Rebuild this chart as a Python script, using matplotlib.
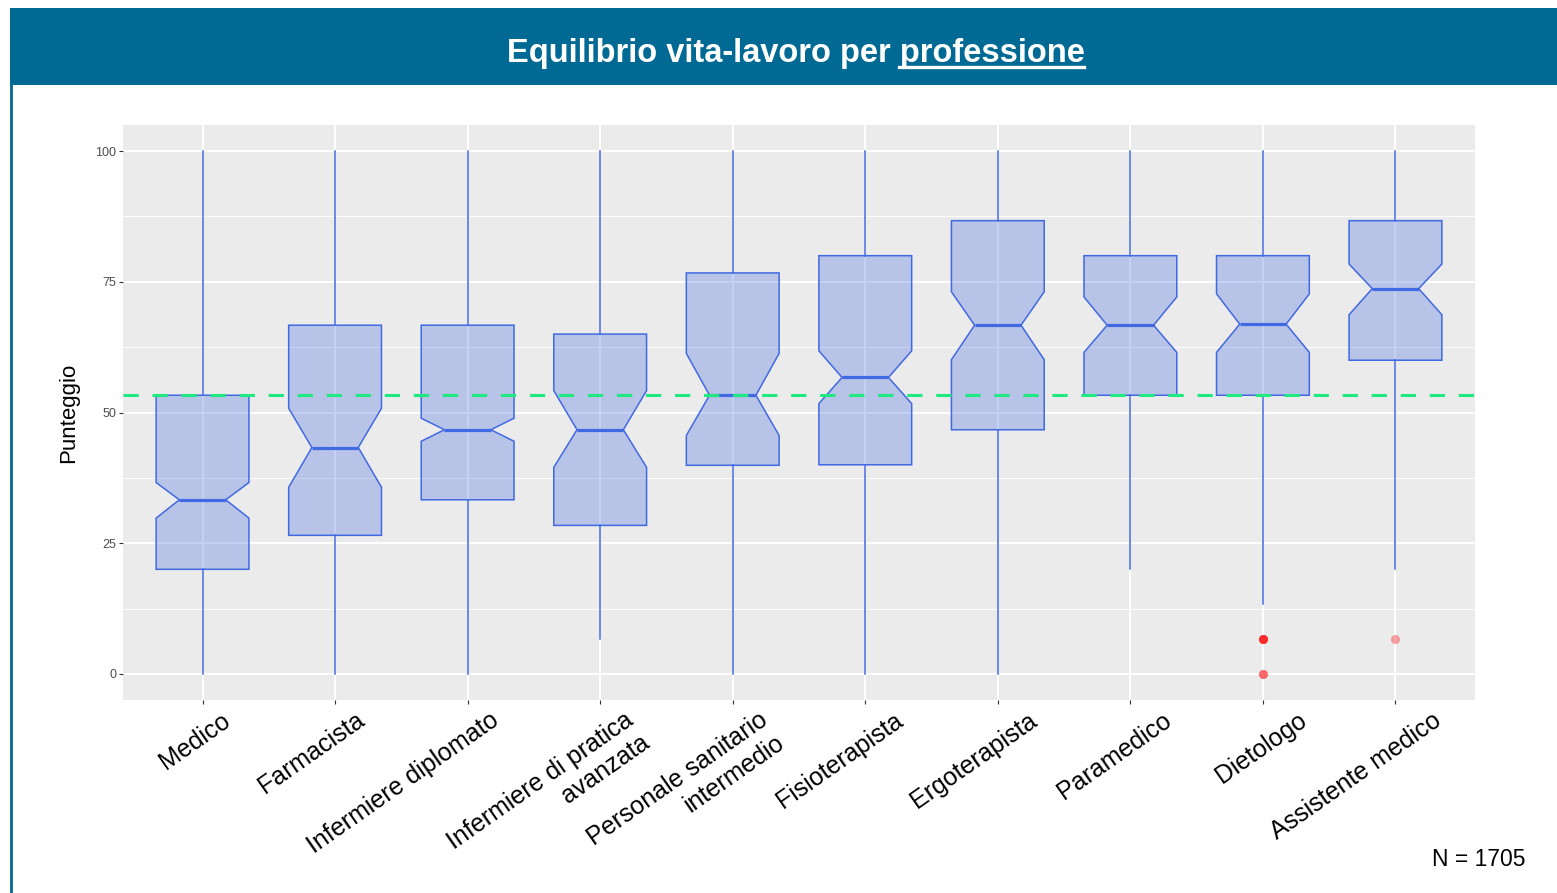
import matplotlib
matplotlib.use("Agg")
import matplotlib.pyplot as plt
import matplotlib.transforms as mtransforms
from matplotlib.patches import Rectangle
from matplotlib.lines import Line2D

plt.rcParams['font.family'] = ['Liberation Sans', 'DejaVu Sans']

# data (scores 0-100)
professioni = ["Medico", "Farmacista", "Infermiere diplomato",
               "Infermiere di pratica\navanzata", "Personale sanitario\nintermedio",
               "Fisioterapista", "Ergoterapista", "Paramedico", "Dietologo",
               "Assistente medico"]
q1 = [20.0, 26.5, 33.3, 28.4, 39.9, 40.0, 46.7, 53.3, 53.3, 60.0]
mediana = [33.3, 43.3, 46.7, 46.7, 53.3, 56.7, 66.7, 66.7, 66.9, 73.7]
q3 = [53.3, 66.7, 66.7, 65.0, 76.7, 80.0, 86.7, 80.0, 80.0, 86.7]
notch_lo = [29.8, 35.7, 44.5, 39.5, 45.6, 51.7, 60.1, 61.5, 61.5, 68.7]
notch_hi = [36.6, 50.8, 48.9, 54.2, 61.3, 61.8, 73.1, 72.1, 72.7, 78.4]
baffo_min = [0.0, 0.0, 0.0, 6.7, 0.0, 0.0, 0.0, 20.0, 13.3, 20.0]
baffo_max = [100.0] * 10
outlier = [[], [], [], [], [], [], [], [], [6.7, 6.7, 6.7, 6.7, 0.0, 0.0], [6.7]]
media_globale = 53.3
n_totale = 1705

W, H = 1557, 893
fig = plt.figure(figsize=(W / 100, H / 100), dpi=100)
fig.patch.set_facecolor("white")

# header band + left border
fig.add_artist(Rectangle((10 / W, 1 - 85 / H), 1 - 10 / W, 77 / H,
                         transform=fig.transFigure, facecolor="#006994", edgecolor="none"))
fig.add_artist(Line2D([11 / W, 11 / W], [0, 1 - 85 / H], transform=fig.transFigure,
                      color="#006994", linewidth=2))

ax = fig.add_axes([123 / W, 1 - 700 / H, 1352 / W, 575 / H])
ax.set_facecolor("#EBEBEB")
for s in ax.spines.values():
    s.set_visible(False)

stats = []
for i in range(len(professioni)):
    stats.append(dict(med=mediana[i], q1=q1[i], q3=q3[i], cilo=notch_lo[i], cihi=notch_hi[i],
                      whislo=baffo_min[i], whishi=baffo_max[i], fliers=outlier[i],
                      label=professioni[i]))

blu = "#4169E1"
ax.bxp(stats, positions=range(1, len(professioni) + 1), widths=0.7, patch_artist=True,
       shownotches=True, showcaps=False,
       boxprops=dict(facecolor=(0.255, 0.412, 0.882, 0.3), edgecolor=blu, linewidth=1.1),
       medianprops=dict(color=blu, linewidth=2.3),
       whiskerprops=dict(color=blu, linewidth=1.1),
       flierprops=dict(marker="o", markerfacecolor=(1, 0, 0, 0.35), markeredgecolor="none",
                       markersize=6.5))

ax.axhline(media_globale, color="#1FEA80", linewidth=2.2, linestyle=(0, (5, 4.5)), zorder=5)

ax.set_xlim(0.4, len(professioni) + 0.6)
ax.set_ylim(-5, 105)
ax.set_yticks([0, 25, 50, 75, 100])
ax.set_yticks([12.5, 37.5, 62.5, 87.5], minor=True)
ax.grid(True, which="major", color="white", linewidth=1.4)
ax.grid(True, which="minor", axis="y", color="white", linewidth=0.7)
ax.set_axisbelow(True)
ax.tick_params(axis="y", which="major", labelsize=9, labelcolor="#4D4D4D", color="#333333",
               length=3, pad=2)
ax.tick_params(axis="y", which="minor", length=0)
ax.tick_params(axis="x", length=3, color="#333333", pad=2)

ax.set_xticks(range(1, len(professioni) + 1))
ax.set_xticklabels(professioni, rotation=35, ha="right", va="top", rotation_mode="anchor",
                   fontsize=18, color="black", multialignment="right")
for i, lab in enumerate(ax.get_xticklabels()):
    off = mtransforms.ScaledTranslation((18 + 2 * i) / 100, -1 / 100, fig.dpi_scale_trans)
    lab.set_transform(lab.get_transform() + off)

ax.set_ylabel("Punteggio", fontsize=16, color="black")
ax.yaxis.set_label_coords(-44 / 1352, 0.5)

# title with underlined last word
titolo_a = "Equilibrio vita-lavoro per "
titolo_b = "professione"
ty = 1 - 62 / H
t = fig.text(0.5 + 17 / W, ty, titolo_a + titolo_b, ha="center", va="baseline",
             fontsize=23.5, fontweight="bold", color="white")
fig.canvas.draw()
r = fig.canvas.get_renderer()
bb = t.get_window_extent(r)
tmp = fig.text(0, 0, titolo_b, fontsize=23.5, fontweight="bold")
wb = tmp.get_window_extent(r).width
tmp.remove()
fig.add_artist(Line2D([(bb.x1 - wb) / W, bb.x1 / W], [ty - 5 / H, ty - 5 / H],
                      transform=fig.transFigure, color="white", linewidth=2.4))

fig.text(1525 / W, 1 - 866 / H, "N = %d" % n_totale, ha="right", va="baseline",
         fontsize=16.5, color="black")

fig.savefig("out.png", dpi=100)
